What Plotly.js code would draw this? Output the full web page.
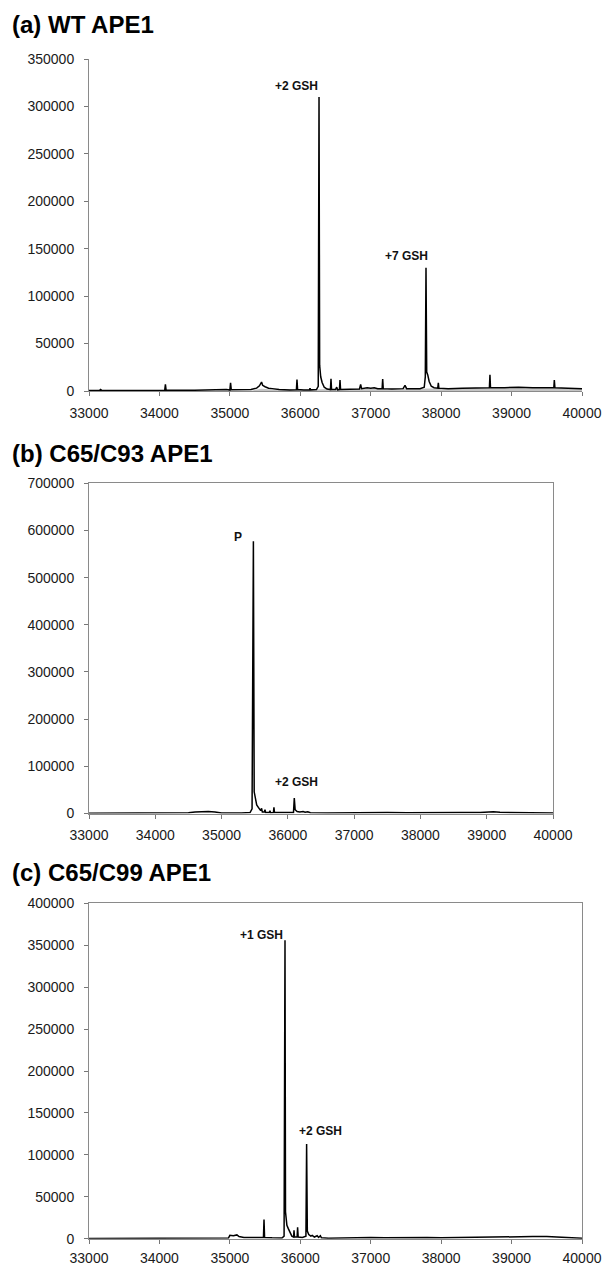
<!DOCTYPE html>
<html>
<head>
<meta charset="utf-8">
<script src="https://cdn.plot.ly/plotly-3.0.1.min.js"></script>
<style>html,body{margin:0;padding:0;background:#fff;}#chart{width:602px;height:1267px;}</style>
</head>
<body>
<div id="chart"></div>
<script>
// ---------- data ----------
const panelTitles = ["(a) WT APE1", "(b) C65/C93 APE1", "(c) C65/C99 APE1"];
const xTicks = [33000, 34000, 35000, 36000, 37000, 38000, 39000, 40000];

const massA = [33000,33150,33165,33180,33500,34000,34075,34085,34095,34500,34850,34900,34950,35000,35010,35020,35300,35380,35420,35450,35465,35500,35550,35600,35700,35850,35945,35953,35962,36050,36130,36138,36146,36230,36255,36266,36275,36290,36310,36340,36380,36428,36436,36444,36500,36517,36530,36556,36564,36572,36700,36840,36857,36870,36950,37000,37050,37100,37162,37170,37178,37300,37460,37487,37510,37700,37760,37775,37785,37795,37810,37830,37860,37900,37952,37960,37968,38100,38300,38500,38685,38693,38701,38900,39100,39300,39500,39600,39607,39615,39800,40000];
const intA = [500,600,1500,600,500,600,700,7000,800,800,1200,2000,1500,1000,8500,1200,1500,3000,5500,9500,6000,4500,3000,2500,1500,1000,1200,12000,1500,1000,1200,3000,1200,1500,5000,310000,27000,15000,9000,4000,2000,1500,13000,1500,1500,4000,1200,1500,11500,1500,1500,2000,7000,2500,3500,3000,3500,2500,2500,12500,2500,2000,2500,6000,2500,2500,4000,15000,130000,20000,17000,10000,5000,3500,3000,8500,3000,2500,3000,3500,3500,17000,3500,3500,4000,3500,3500,3500,11500,3500,3000,2500];
const massAgrey = [33000,35300,35450,35600,36200,36400,37000,37800,38000,38500,39000,39500,40000];
const intAgrey = [0,300,2500,1500,1500,2000,2500,2500,2500,3000,3200,3200,3000];

const massB = [33000,33500,34000,34050,34100,34500,34600,34700,34750,34800,34900,35000,35300,35430,35460,35480,35492,35510,35530,35560,35590,35604,35615,35645,35655,35665,35720,35730,35740,35782,35790,35798,35900,36085,36097,36110,36140,36180,36230,36260,36300,36340,36600,36900,37000,37200,37500,37800,38000,38300,38600,38900,39100,39200,39500,39700,40000];
const intB = [500,800,1000,2000,1000,1500,3000,4500,5000,4500,3000,1000,800,2000,10000,577000,46000,30000,18000,12000,6000,11000,3000,3000,8000,2000,2000,6000,1500,2000,13000,2000,1500,2000,33000,8000,4000,3000,4000,2500,3500,1500,1000,1500,2000,1500,2000,1500,2000,1500,2000,2000,3500,2500,2500,2000,1000];

const massC = [33000,33500,34000,34200,34400,34600,34800,34980,35000,35050,35100,35130,35200,35300,35400,35477,35485,35493,35600,35740,35770,35783,35790,35810,35830,35860,35880,35905,35911,35918,35955,35962,35970,36030,36080,36090,36100,36120,36150,36170,36200,36240,36260,36285,36300,36400,36600,36800,37000,37200,37400,37600,37800,38000,38200,38500,38700,38900,39100,39300,39500,39700,40000];
const intC = [300,400,500,800,1000,700,500,800,4000,3500,4500,2500,1500,1500,2000,1500,23000,1500,1000,800,3000,356000,32000,16000,12000,6000,3000,2000,10000,2000,2000,13500,2000,1500,3000,113000,9000,5000,3000,4000,2000,3500,1500,3500,1000,500,1000,1500,1500,1200,1500,1500,1500,1200,1500,2000,2500,2500,3000,2500,2500,1500,500];

const yMaxA = 350000, yMaxB = 700000, yMaxC = 400000;
const dtickA = 50000, dtickB = 100000, dtickC = 50000;

const labelsA = ["+2 GSH", "+7 GSH"];
const labelsB = ["P", "+2 GSH"];
const labelsC = ["+1 GSH", "+2 GSH"];
// ---------------------------------------------------

const W = 602, H = 1267;
const FONT = "Liberation Sans, Arial, Helvetica, sans-serif";
const px = v => v / W;
const py = v => 1 - v / H;

function tr(x, y, xa, ya) {
  return {x: x, y: y, xaxis: xa, yaxis: ya, type: 'scatter', mode: 'lines',
          line: {color: '#000', width: 1.5}, hoverinfo: 'skip', showlegend: false};
}
const traces = [
  {x: massAgrey, y: intAgrey, xaxis: 'x', yaxis: 'y', type: 'scatter', mode: 'lines',
   line: {color: 'rgba(0,0,0,0)', width: 0}, fill: 'tozeroy', fillcolor: '#c4c4c4',
   hoverinfo: 'skip', showlegend: false},
  tr(massA, intA, 'x', 'y'),
  tr(massB, intB, 'x2', 'y2'),
  tr(massC, intC, 'x3', 'y3')
];

function xax(domain, anchor, mirror, standoff) {
  return {domain: domain, anchor: anchor, range: [33000, 40000], tickvals: xTicks,
          ticktext: xTicks.map(String), ticks: 'outside', ticklen: 4, tickcolor: '#777',
          showline: true, linecolor: '#8a8a8a', linewidth: 1, mirror: mirror,
          showgrid: false, zeroline: false, fixedrange: true, ticklabelstandoff: standoff,
          tickfont: {family: FONT, size: 14, color: '#1a1a1a'}};
}
function yax(domain, anchor, max, dt, mirror) {
  const vals = [];
  for (let v = 0; v <= max; v += dt) vals.push(v);
  return {domain: domain, anchor: anchor, range: [0, max], tickvals: vals,
          ticktext: vals.map(String), ticks: 'outside', ticklen: 4, tickcolor: '#777',
          showline: true, linecolor: '#8a8a8a', linewidth: 1, mirror: mirror,
          showgrid: false, zeroline: false, fixedrange: true, ticklabelstandoff: 7,
          tickfont: {family: FONT, size: 14, color: '#1a1a1a'}};
}

function peakOf(xs, ys, lo, hi) {
  let best = -1, bi = 0;
  for (let i = 0; i < xs.length; i++) if (xs[i] >= lo && xs[i] <= hi && ys[i] > best) { best = ys[i]; bi = i; }
  return [xs[bi], ys[bi]];
}
const pA1 = peakOf(massA, intA, 36000, 36500), pA2 = peakOf(massA, intA, 37500, 38000);
const pB1 = peakOf(massB, intB, 35300, 35600), pB2 = peakOf(massB, intB, 36000, 36200);
const pC1 = peakOf(massC, intC, 35700, 35850), pC2 = peakOf(massC, intC, 36000, 36200);

function lab(text, p, xr, yr, xanchor, yanchor, xshift, yshift) {
  return {text: '<b>' + text + '</b>', x: p[0], y: p[1], xref: xr, yref: yr,
          xanchor: xanchor, yanchor: yanchor, xshift: xshift, yshift: yshift, showarrow: false,
          font: {family: FONT, size: 12, color: '#111'}};
}
function ttl(text, yPix) {
  return {text: '<b>' + text + '</b>', x: px(10), y: py(yPix), xref: 'paper', yref: 'paper',
          xanchor: 'left', yanchor: 'middle', showarrow: false,
          font: {family: FONT, size: 24, color: '#000'}};
}

const layout = {
  width: W, height: H, margin: {l: 0, r: 0, t: 0, b: 0},
  paper_bgcolor: '#fff', plot_bgcolor: '#fff', showlegend: false,
  xaxis: xax([px(89), px(582)], 'y', false, 5),
  yaxis: yax([py(391), py(59)], 'x', yMaxA, dtickA, false),
  xaxis2: xax([px(89), px(553)], 'y2', true, 5),
  yaxis2: yax([py(813.5), py(483.3)], 'x2', yMaxB, dtickB, true),
  xaxis3: xax([px(89), px(582)], 'y3', true, 2),
  yaxis3: yax([py(1238.7), py(903.3)], 'x3', yMaxC, dtickC, true),
  annotations: [
    ttl(panelTitles[0], 25),
    ttl(panelTitles[1], 453),
    ttl(panelTitles[2], 872),
    lab(labelsA[0], pA1, 'x', 'y', 'right', 'bottom', 1, 2),
    lab(labelsA[1], pA2, 'x', 'y', 'right', 'bottom', 4, 3),
    lab(labelsB[0], pB1, 'x2', 'y2', 'right', 'middle', -9, 4),
    lab(labelsB[1], pB2, 'x2', 'y2', 'center', 'bottom', 2, 7),
    lab(labelsC[0], pC1, 'x3', 'y3', 'right', 'middle', 0, 5),
    lab(labelsC[1], pC2, 'x3', 'y3', 'left', 'bottom', -10, 4)
  ]
};

Plotly.newPlot('chart', traces, layout, {staticPlot: true, displayModeBar: false});
</script>
</body>
</html>
